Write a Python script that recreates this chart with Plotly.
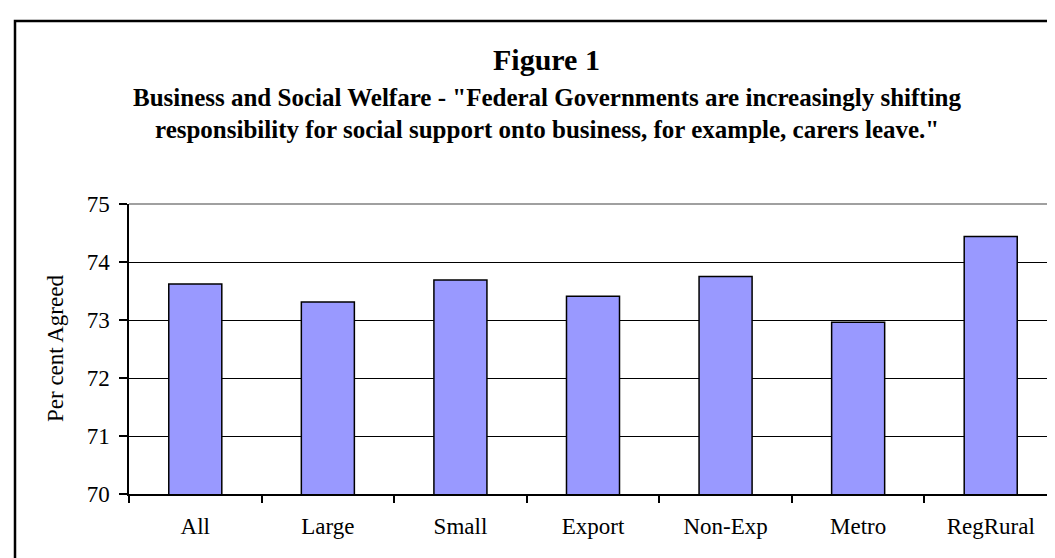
import plotly.graph_objects as go

categories = ["All", "Large", "Small", "Export", "Non-Exp", "Metro", "RegRural"]
values = [73.62, 73.31, 73.69, 73.41, 73.75, 72.96, 74.44]
y_ticks = [70, 71, 72, 73, 74, 75]

title_main = "<b>Figure 1</b>"
subtitle_1 = "<b>Business and Social Welfare - \"Federal Governments are increasingly shifting</b>"
subtitle_2 = "<b>responsibility for social support onto business, for example, carers leave.\"</b>"
y_title = "Per cent Agreed"

W, H = 1055, 558
L, R, T, B = 121, 6, 196, 72
pw, ph = W - L - R, H - T - B


def px_x(x):
    return (x - L) / pw


def px_y(y):
    return (H - B - y) / ph


FONT = "Liberation Serif"

fig = go.Figure()
fig.add_trace(go.Bar(
    x=categories, y=values, width=0.4,
    marker=dict(color="#9999FF", line=dict(color="black", width=1.5)),
))

fig.update_layout(
    width=W, height=H,
    margin=dict(l=L, r=R, t=T, b=B),
    paper_bgcolor="white", plot_bgcolor="white",
    showlegend=False,
    font=dict(family=FONT, size=20, color="black"),
)

fig.update_xaxes(
    type="category",
    tickson="boundaries",
    ticks="outside", ticklen=7, tickwidth=1.5, tickcolor="black",
    showline=True, linecolor="black", linewidth=1.5,
    showgrid=False,
    tickfont=dict(family=FONT, size=23, color="black"),
    ticklabelstandoff=11,
    range=[-0.5, 6.5],
)

fig.update_yaxes(
    range=[70, 75],
    tickvals=y_ticks,
    ticks="outside", ticklen=8, tickwidth=1.5, tickcolor="black",
    showline=True, linecolor="black", linewidth=1.5,
    showgrid=True, gridcolor="black", gridwidth=1,
    zeroline=False,
    tickfont=dict(family=FONT, size=23, color="black"),
    ticklabelstandoff=5,
)

# plot-area top and right border (grey)
fig.add_shape(type="line", xref="paper", yref="paper", x0=0, x1=1, y0=1, y1=1,
              line=dict(color="#808080", width=1.5))
fig.add_shape(type="line", xref="paper", yref="paper", x0=1, x1=1, y0=0, y1=1,
              line=dict(color="#808080", width=1.5))

# outer chart frame
fig.add_shape(type="rect", xref="paper", yref="paper",
              x0=px_x(7), x1=px_x(1070), y0=px_y(580), y1=px_y(13),
              line=dict(color="black", width=2.5), layer="above")

fig.add_annotation(text=title_main, xref="paper", yref="paper",
                   x=px_x(538), y=px_y(51), xanchor="center", yanchor="middle",
                   showarrow=False, font=dict(family=FONT, size=30, color="black"))
fig.add_annotation(text=subtitle_1, xref="paper", yref="paper",
                   x=px_x(539), y=px_y(89), xanchor="center", yanchor="middle",
                   showarrow=False, font=dict(family=FONT, size=25, color="black"))
fig.add_annotation(text=subtitle_2, xref="paper", yref="paper",
                   x=px_x(539), y=px_y(122), xanchor="center", yanchor="middle",
                   showarrow=False, font=dict(family=FONT, size=25, color="black"))
fig.add_annotation(text=y_title, xref="paper", yref="paper",
                   x=px_x(47), y=px_y(341), xanchor="center", yanchor="middle",
                   textangle=-90, showarrow=False,
                   font=dict(family=FONT, size=23, color="black"))

fig.write_html("out.html")
